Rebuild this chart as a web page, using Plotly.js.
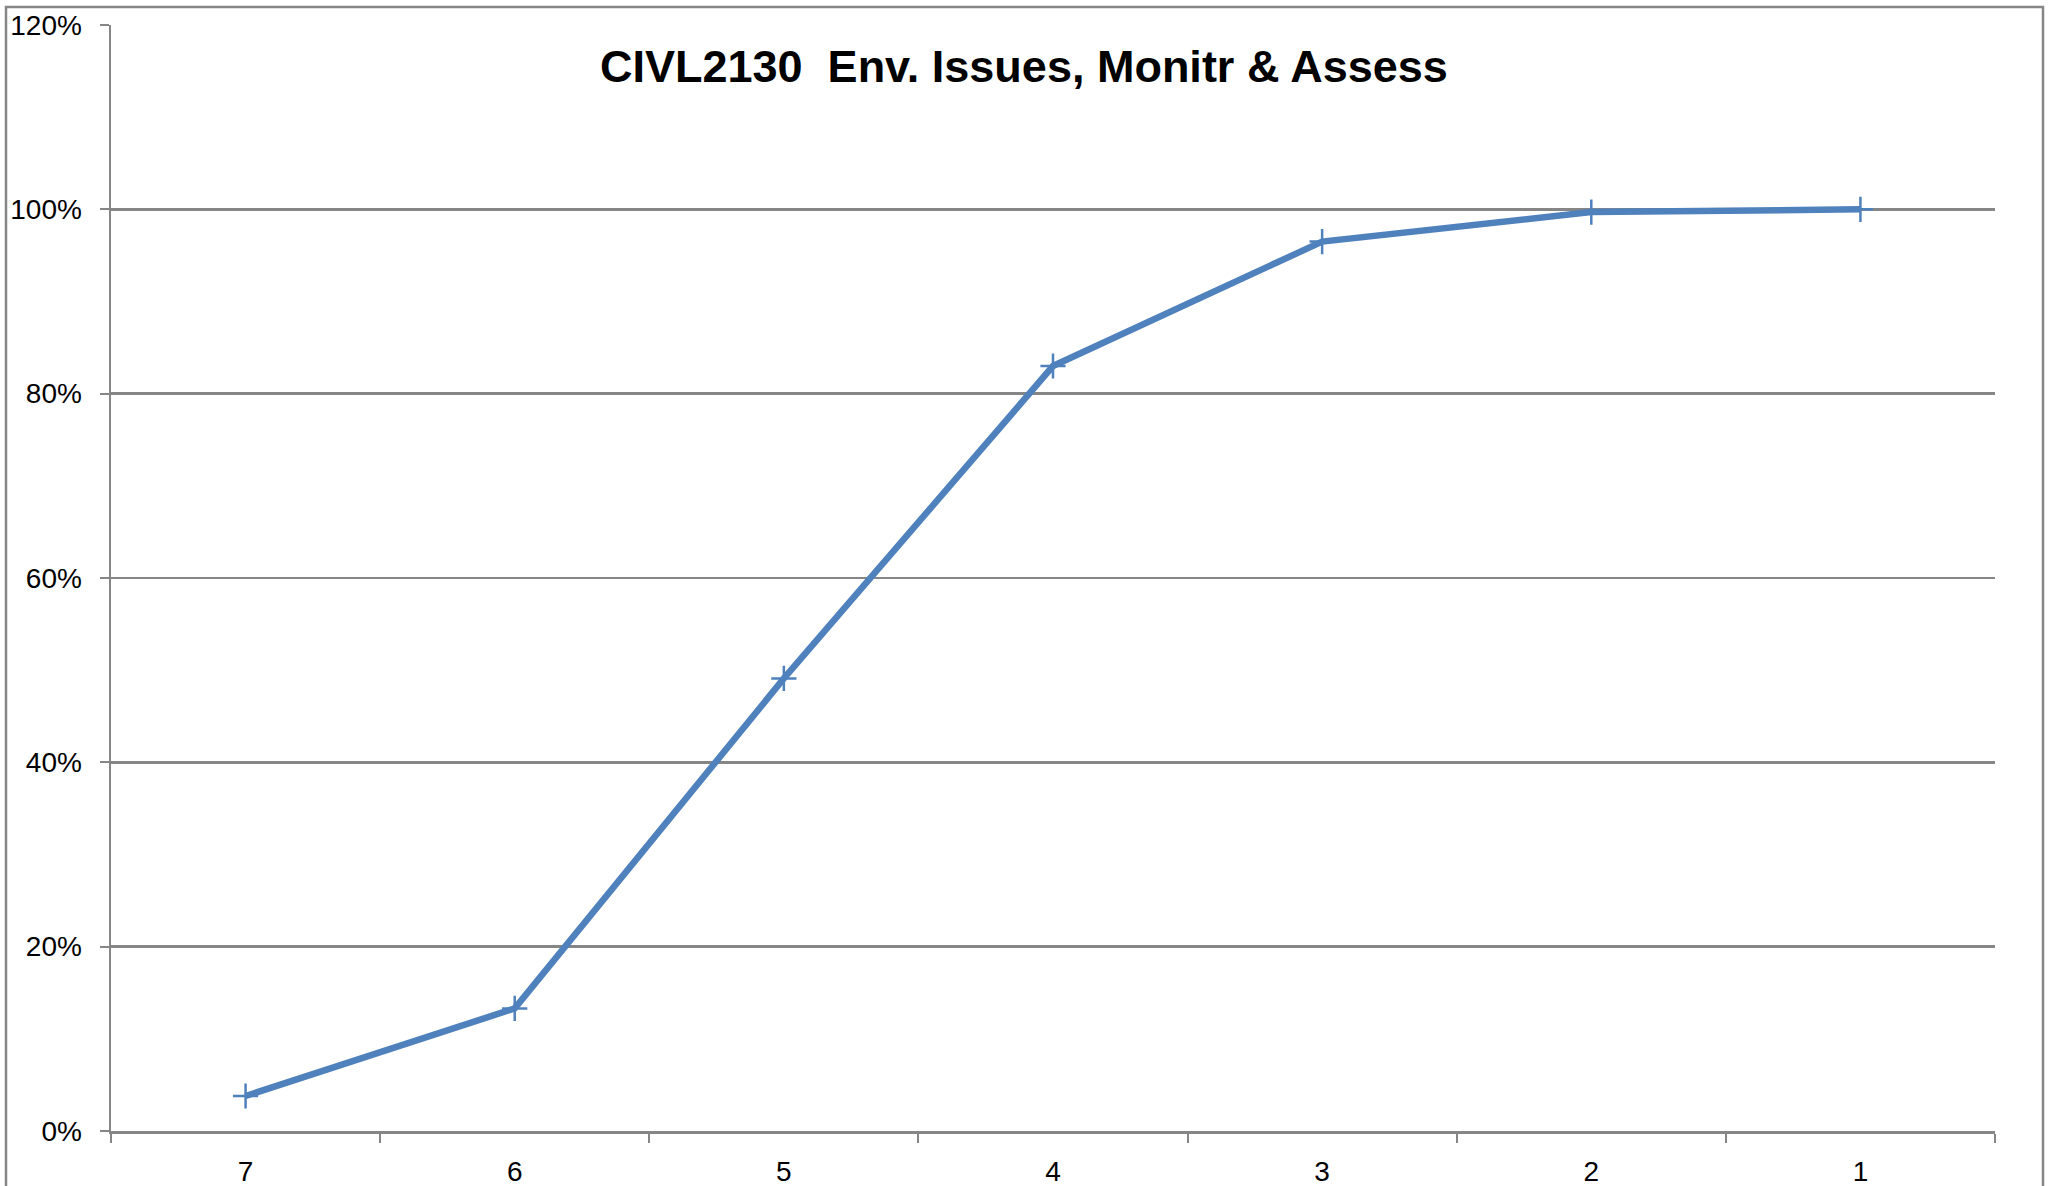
<!DOCTYPE html>
<html>
<head>
<meta charset="utf-8">
<script src="https://cdn.plot.ly/plotly-3.0.1.min.js"></script>
<style>
  html, body { margin: 0; padding: 0; background: #ffffff; }
  #chart { width: 2051px; height: 1186px; }
</style>
</head>
<body>
<div id="chart"></div>
<script>
const categories = ["7", "6", "5", "4", "3", "2", "1"];
const cumulative = [0.038, 0.133, 0.491, 0.830, 0.965, 0.997, 1.000];
const chartTitle = "CIVL2130  Env. Issues, Monitr &amp; Assess";

const W = 2051, H = 1186;
const m = { l: 111, r: 56, t: 25, b: 55 };
const pw = W - m.l - m.r, ph = H - m.t - m.b;
const px = v => (v - m.l) / pw;
const py = v => (H - m.b - v) / ph;

const FONT = '"Liberation Sans Narrow", "Arial Narrow", "Liberation Sans", sans-serif';

const trace = {
  x: categories,
  y: cumulative,
  type: 'scatter',
  mode: 'lines+markers',
  line: { color: '#4F81BD', width: 6.5 },
  marker: { symbol: 'cross-thin', size: 18, line: { color: '#4F81BD', width: 2.5 }, color: '#4F81BD' },
  hoverinfo: 'x+y'
};

const layout = {
  width: W, height: H,
  margin: m,
  paper_bgcolor: '#ffffff',
  plot_bgcolor: '#ffffff',
  showlegend: false,
  font: { family: FONT, color: '#000000', size: 27 },
  xaxis: {
    type: 'category',
    range: [-0.5, categories.length - 0.5],
    tickson: 'boundaries',
    ticks: 'outside',
    ticklen: 9,
    tickwidth: 2,
    tickcolor: '#868686',
    showline: true,
    linecolor: '#868686',
    linewidth: 2.5,
    showgrid: false,
    zeroline: false,
    ticklabelstandoff: 14,
    tickfont: { family: FONT, size: 28, color: '#000000' },
    fixedrange: true
  },
  yaxis: {
    range: [0, 1.2],
    dtick: 0.2,
    tick0: 0,
    tickformat: '.0%',
    ticks: 'outside',
    ticklen: 9,
    tickwidth: 2,
    tickcolor: '#868686',
    showline: true,
    linecolor: '#868686',
    linewidth: 2.5,
    showgrid: true,
    gridcolor: '#868686',
    gridwidth: 2.5,
    zeroline: false,
    ticklabelstandoff: 12,
    tickfont: { family: FONT, size: 28, color: '#000000' },
    fixedrange: true
  },
  annotations: [{
    text: '<b>' + chartTitle + '</b>',
    xref: 'paper', yref: 'paper',
    x: px(1024), y: py(67),
    xanchor: 'center', yanchor: 'middle',
    showarrow: false,
    font: { family: FONT, size: 45, color: '#000000' }
  }],
  shapes: [{
    type: 'rect', xref: 'paper', yref: 'paper',
    x0: px(6), x1: px(2043), y0: py(1195), y1: py(7),
    line: { color: '#868686', width: 2.5 },
    fillcolor: 'rgba(0,0,0,0)',
    layer: 'below'
  }]
};

Plotly.newPlot('chart', [trace], layout, { displayModeBar: false, staticPlot: true });
</script>
</body>
</html>
